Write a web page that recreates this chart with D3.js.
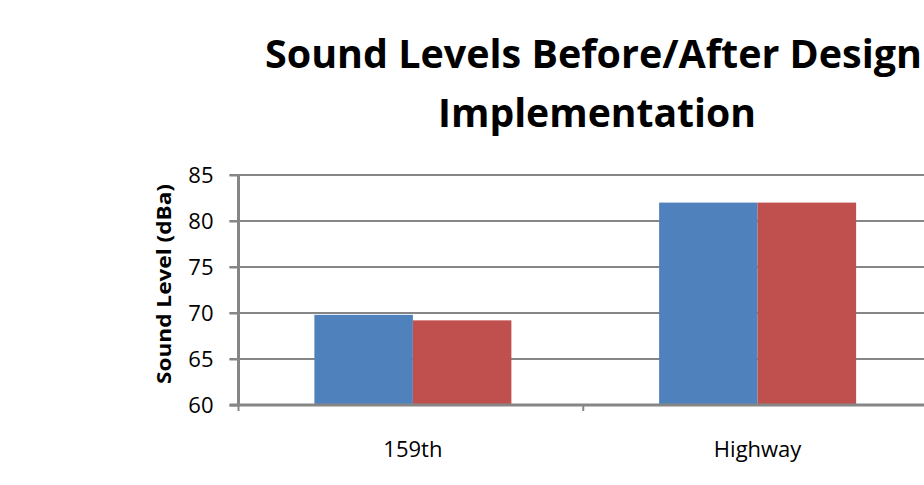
<!DOCTYPE html>
<html>
<head>
<meta charset="utf-8">
<script src="https://cdn.jsdelivr.net/npm/d3@7"></script>
<style>
  html, body { margin: 0; padding: 0; background: #fff; overflow: hidden; }
  svg { display: block; }
</style>
</head>
<body>
<svg id="chart" width="924" height="485"></svg>
<script>
// Sound levels measured at each site, before and after the design change
const categories = ["159th", "Highway"];
const seriesNames = ["Before", "After"];
const beforeValues = [69.8, 82.0];
const afterValues = [69.2, 82.0];
const yTicks = [60, 65, 70, 75, 80, 85];
const titleLines = ["Sound Levels Before/After Design", "Implementation"];
const yAxisTitle = "Sound Level (dBa)";
const colors = ["#4F81BD", "#C0504D"];

const svg = d3.select("#chart");
const plot = { left: 238.5, right: 928, top: 175, bottom: 405 };

const y = d3.scaleLinear().domain([60, 85]).range([plot.bottom, plot.top]);
const x = d3.scaleBand().domain(categories).range([plot.left + 2, plot.right + 2]).padding(0);
// 150% gap between groups: each bar is band / (2 + 1.5)
const inner = d3.scaleBand().domain(seriesNames)
  .range([0, x.bandwidth()]).paddingInner(0).paddingOuter(0.75);

const gridColor = "#868686";

// Horizontal gridlines (with tick stub left of the axis)
svg.append("g").selectAll("line").data(yTicks.slice(1)).join("line")
  .attr("x1", plot.left - 9).attr("x2", 924)
  .attr("y1", d => y(d)).attr("y2", d => y(d))
  .attr("stroke", gridColor).attr("stroke-width", 2);

// Bars
const rows = categories.map((c, i) => ({ cat: c, vals: [beforeValues[i], afterValues[i]] }));
svg.append("g").selectAll("g").data(rows).join("g")
  .attr("transform", d => `translate(${x(d.cat)},0)`)
  .selectAll("rect").data(d => d.vals.map((v, j) => ({ v, s: seriesNames[j], j })))
  .join("rect")
  .attr("x", d => inner(d.s))
  .attr("width", inner.bandwidth())
  .attr("y", d => y(d.v))
  .attr("height", d => y(60) - y(d.v))
  .attr("fill", d => colors[d.j]);

// Y axis (domain line, ticks and labels)
const yAxis = d3.axisLeft(y).tickValues(yTicks).tickSize(9).tickPadding(16).tickFormat(d3.format("d"));
const gy = svg.append("g").attr("transform", `translate(${plot.left},0)`).call(yAxis);
gy.select(".domain").attr("stroke", gridColor).attr("stroke-width", 3).attr("d", `M0,${plot.top}V${plot.bottom + 1}`);
gy.selectAll(".tick line").attr("stroke", gridColor).attr("stroke-width", 2);
gy.selectAll(".tick text")
  .attr("fill", "#000")
  .style("font-family", "'Open Sans', sans-serif")
  .style("font-size", "22px")
  .attr("dy", "0.36em");

// X axis: ticks sit at band boundaries
const xAxisLine = svg.append("g");
xAxisLine.append("line")
  .attr("x1", plot.left - 9).attr("x2", 924)
  .attr("y1", plot.bottom).attr("y2", plot.bottom)
  .attr("stroke", gridColor).attr("stroke-width", 3);
const boundaries = categories.map(c => x(c) - 2).concat([plot.right]);
xAxisLine.selectAll("line.t").data(boundaries).join("line").attr("class", "t")
  .attr("x1", d => d).attr("x2", d => d)
  .attr("y1", plot.bottom).attr("y2", plot.bottom + 6)
  .attr("stroke", gridColor).attr("stroke-width", 2);
svg.append("g").selectAll("text").data(categories).join("text")
  .attr("x", d => x(d) + x.bandwidth() / 2)
  .attr("y", 457)
  .attr("text-anchor", "middle")
  .attr("fill", "#000")
  .style("font-family", "'Open Sans', sans-serif")
  .style("font-size", "22px")
  .text(d => d);

// Y axis title
svg.append("text")
  .attr("transform", "translate(171,284) rotate(-90)")
  .attr("text-anchor", "middle")
  .attr("fill", "#000")
  .style("font-family", "'Open Sans', sans-serif")
  .style("font-weight", "bold")
  .style("font-size", "19px")
  .attr("textLength", 200)
  .attr("lengthAdjust", "spacingAndGlyphs")
  .text(yAxisTitle);

// Chart title, two lines
const titleWidths = [657, 318];
const titleBaselines = [68, 127];
svg.append("g").selectAll("text").data(titleLines).join("text")
  .attr("x", (d, i) => i === 0 ? 593.5 : 597)
  .attr("y", (d, i) => titleBaselines[i])
  .attr("text-anchor", "middle")
  .attr("fill", "#000")
  .style("font-family", "'Open Sans', sans-serif")
  .style("font-weight", "bold")
  .style("font-size", "39px")
  .attr("textLength", (d, i) => titleWidths[i])
  .attr("lengthAdjust", "spacingAndGlyphs")
  .text(d => d);
</script>
</body>
</html>
